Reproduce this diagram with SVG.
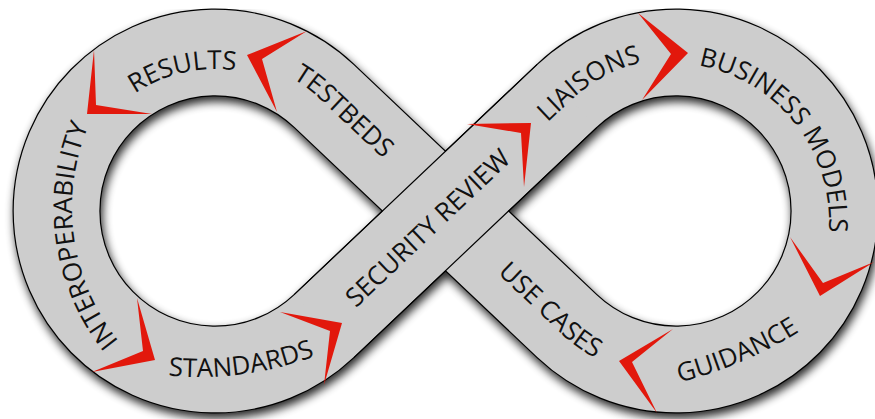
<svg xmlns="http://www.w3.org/2000/svg" width="875" height="419" viewBox="0 0 875 419">
<defs>
<filter id="sh" x="-10%" y="-15%" width="120%" height="130%"><feGaussianBlur stdDeviation="5"/></filter>
<path id="fig8" d="M324,326.1 L567,95.9 A158.5,158.5 0 1 1 567,326.1 L324,95.9 A158.5,158.5 0 1 0 324,326.1 Z"/>
<path id="p-results" d="M92,140 A142,142 0 0 1 294.4,93.3"/>
<path id="p-interop" d="M134.4,358.6 A213,213 0 0 1 98.7,104.7"/>
<path id="p-standards" d="M88.2,357.3 A327,327 0 0 0 387.6,317.9"/>
<path id="p-guidance" d="M616,392.9 A413.5,413.5 0 0 0 851.3,293.1"/>
<path id="p-business" d="M670,63 A159,159 0 0 1 824.3,260.5"/>
<path id="p-security" d="M330.2,332.6 L573.2,102.4"/>
<path id="p-liaisons" d="M449.6,215.4 L571.1,100.3 A152.5,152.5 0 0 1 752.3,78.9"/>
<path id="p-testbeds" d="M241.7,59.8 A153.5,153.5 0 0 1 320.6,99.6 L429.5,202.7"/>
<path id="p-usecases" d="M439,217.9 L560.5,333 A168,168 0 0 0 733.5,368.9"/>
</defs>
<style>
.edge{fill:none;stroke:#000;stroke-width:88}
.band{fill:none;stroke:#cdcdcd;stroke-width:85.6}
.line{fill:none;stroke:#000;stroke-width:1.2}
.chev{fill:#e2180c}
.lbl{font-family:"Open Sans","DejaVu Sans",sans-serif;font-size:26px;fill:#111}
</style>
<g id="shadow" filter="url(#sh)" transform="translate(2,5)" opacity="0.85">
<use href="#fig8" class="edge"/>
</g>
<g id="connectors">
<use href="#fig8" class="edge"/>
<use href="#fig8" class="band"/>
<path d="M324,326.1 L567,95.9" fill="none" stroke="#cdcdcd" stroke-width="85.6"/>
<path class="line" d="M353.8,357.6 L596.8,127.4 M294.2,294.6 L537.2,64.4"/>
</g>
<g id="chevrons">
<polygon class="chev" points="94,50 87,114 152,114 96,105"/>
<polygon class="chev" points="307,31 247,55 277,112 262,59"/>
<polygon class="chev" points="137,298 155,360 92,372 143,351"/>
<polygon class="chev" points="280,312 342,323 324,385 330,331"/>
<polygon class="chev" points="467,124 531,123 524,187 521,133"/>
<polygon class="chev" points="638,13 688,53 642,100 671,54"/>
<polygon class="chev" points="790,237 820,296 874,262 823,283"/>
<polygon class="chev" points="673,329 619,361 657,413 632,362"/>
</g>
<g id="results"><text class="lbl" text-anchor="middle"><textPath href="#p-results" startOffset="50%">RESULTS</textPath></text></g>
<g id="testbeds"><text class="lbl" text-anchor="middle"><textPath href="#p-testbeds" startOffset="115">TESTBEDS</textPath></text></g>
<g id="interoperability"><text class="lbl" text-anchor="middle"><textPath href="#p-interop" startOffset="50%">INTEROPERABILITY</textPath></text></g>
<g id="standards"><text class="lbl" text-anchor="middle"><textPath href="#p-standards" startOffset="50%">STANDARDS</textPath></text></g>
<g id="security-review"><text class="lbl" text-anchor="middle"><textPath href="#p-security" startOffset="142.9">SECURITY  REVIEW</textPath></text></g>
<g id="liaisons"><text class="lbl" text-anchor="middle"><textPath href="#p-liaisons" startOffset="191.4">LIAISONS</textPath></text></g>
<g id="business-models"><text class="lbl" text-anchor="middle"><textPath href="#p-business" startOffset="50%">BUSINESS MODELS</textPath></text></g>
<g id="guidance"><text class="lbl" text-anchor="middle"><textPath href="#p-guidance" startOffset="50%">GUIDANCE</textPath></text></g>
<g id="use-cases"><text class="lbl" text-anchor="middle"><textPath href="#p-usecases" startOffset="145.4">USE CASES</textPath></text></g>
</svg>
